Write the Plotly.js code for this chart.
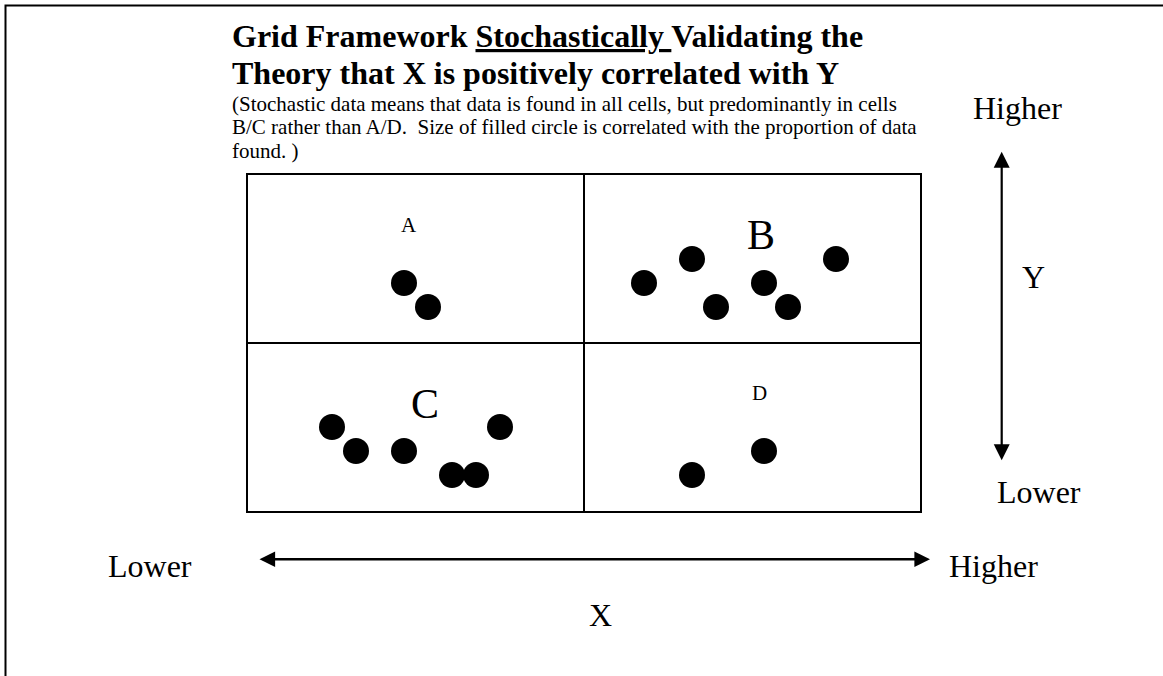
<!DOCTYPE html>
<html>
<head>
<meta charset="utf-8">
<script src="https://cdn.plot.ly/plotly-3.0.1.min.js"></script>
<style>
  html, body { margin: 0; padding: 0; background: #ffffff; }
  #chart { width: 1163px; height: 676px; }
</style>
</head>
<body>
<div id="chart"></div>
<script>
// ---------------- data ----------------
// Cell A (upper left): low X, high Y
var cellA_x = [6.5, 7.5];
var cellA_y = [9.5, 8.5];
// Cell B (upper right): high X, high Y
var cellB_x = [16.5, 18.5, 19.5, 21.5, 22.5, 24.5];
var cellB_y = [9.5, 10.5, 8.5, 9.5, 8.5, 10.5];
// Cell C (lower left): low X, low Y
var cellC_x = [3.5, 4.5, 6.5, 8.5, 9.5, 10.5];
var cellC_y = [3.5, 2.5, 2.5, 1.5, 1.5, 3.5];
// Cell D (lower right): high X, low Y
var cellD_x = [18.5, 21.5];
var cellD_y = [1.5, 2.5];

var cellLabels = ['A', 'B', 'C', 'D'];
var titleLines = [
  'Grid Framework <u>Stochastically </u>Validating the',
  'Theory that X is positively correlated with Y'
];
var noteLines = [
  '(Stochastic data means that data is found in all cells, but predominantly in cells',
  'B/C rather than A/D.  Size of filled circle is correlated with the proportion of data',
  'found. )'
];
var axisWords = { low: 'Lower', high: 'Higher', x: 'X', y: 'Y' };

// ---------------- geometry ----------------
var W = 1163, H = 676;
var M = { l: 248, r: 243, t: 175, b: 165 };
var PW = W - M.l - M.r, PH = H - M.t - M.b;
function px(x) { return (x - M.l) / PW; }          // pixel x -> paper
function py(y) { return (H - M.b - y) / PH; }      // pixel y -> paper
var SERIF = 'Liberation Serif, Times New Roman, serif';

function txt(text, x, top, size, xanchor, weight) {
  return {
    text: text, xref: 'paper', yref: 'paper',
    x: px(x), y: py(top), xanchor: xanchor || 'center', yanchor: 'top',
    showarrow: false, align: 'left', borderpad: 1,
    font: { family: SERIF, size: size, color: '#000', weight: weight || 'normal' }
  };
}
// multi-line block with tight line spacing: base size sets spacing (1.3em), span sets glyph size
function block(lines, x, top, glyphSize, lineGap, weight) {
  var html = lines.map(function (l) {
    return '<span style="font-size:' + glyphSize + 'px">' + l + '</span>';
  }).join('<br>');
  return txt(html, x, top, lineGap / 1.3, 'left', weight);
}

var marker = { color: '#000', size: 26, line: { width: 0 } };
function cellTrace(xs, ys, name) {
  return { type: 'scatter', mode: 'markers', x: xs, y: ys, name: name,
           marker: marker, hoverinfo: 'skip', showlegend: false, cliponaxis: false };
}
var traces = [
  cellTrace(cellA_x, cellA_y, 'A'),
  cellTrace(cellB_x, cellB_y, 'B'),
  cellTrace(cellC_x, cellC_y, 'C'),
  cellTrace(cellD_x, cellD_y, 'D')
];

function dblArrow(x1, y1, x0, y0, w, s) {
  return { xref: 'paper', yref: 'paper', x: px(x1), y: py(y1),
    ax: x0 - x1, ay: y0 - y1, text: '', showarrow: true,
    arrowside: 'end+start', arrowhead: 2, startarrowhead: 2,
    arrowwidth: w, arrowsize: s, startarrowsize: s, arrowcolor: '#000' };
}

var annotations = [
  block(titleLines, 230, 15.5, 32, 37, 'bold'),
  block(noteLines, 230, 89.8, 21, 23.4, 'normal'),
  // cell letters
  txt(cellLabels[0], 409, 211.3, 21),
  txt(cellLabels[1], 761, 210, 42),
  txt(cellLabels[2], 425, 379, 42),
  txt(cellLabels[3], 759, 379.3, 21),
  // axis words
  txt(axisWords.high, 1017.5, 88.5, 32),
  txt(axisWords.y, 1033, 257, 32),
  txt(axisWords.low, 1038.5, 472, 32),
  txt(axisWords.low, 149.5, 545.5, 32),
  txt(axisWords.high, 993.5, 545.5, 32),
  txt(axisWords.x, 600, 594.5, 32),
  // horizontal double arrow (X): tip right, start left
  dblArrow(930, 559.3, 258, 559.3, 2.5, 1.25),
  // vertical double arrow (Y): tip top, start bottom
  dblArrow(1001.7, 151.7, 1001.7, 461.7, 2.2, 1.45)
];

var layout = {
  width: W, height: H,
  margin: M,
  paper_bgcolor: '#ffffff', plot_bgcolor: '#ffffff',
  showlegend: false,
  xaxis: {
    range: [0, 28], showline: true, mirror: true, linecolor: '#000', linewidth: 2,
    tickvals: [14], showgrid: true, gridcolor: '#000', gridwidth: 2,
    showticklabels: false, ticks: '', zeroline: false, fixedrange: true
  },
  yaxis: {
    range: [0, 14], showline: true, mirror: true, linecolor: '#000', linewidth: 2,
    tickvals: [7], showgrid: true, gridcolor: '#000', gridwidth: 2,
    showticklabels: false, ticks: '', zeroline: false, fixedrange: true
  },
  shapes: [
    { type: 'rect', xref: 'paper', yref: 'paper', layer: 'below',
      x0: px(5.5), x1: px(1180), y0: py(700), y1: py(5.5),
      line: { color: '#000', width: 2 }, fillcolor: 'rgba(0,0,0,0)' }
  ],
  annotations: annotations
};

Plotly.newPlot('chart', traces, layout, { staticPlot: true, displayModeBar: false });
</script>
</body>
</html>
